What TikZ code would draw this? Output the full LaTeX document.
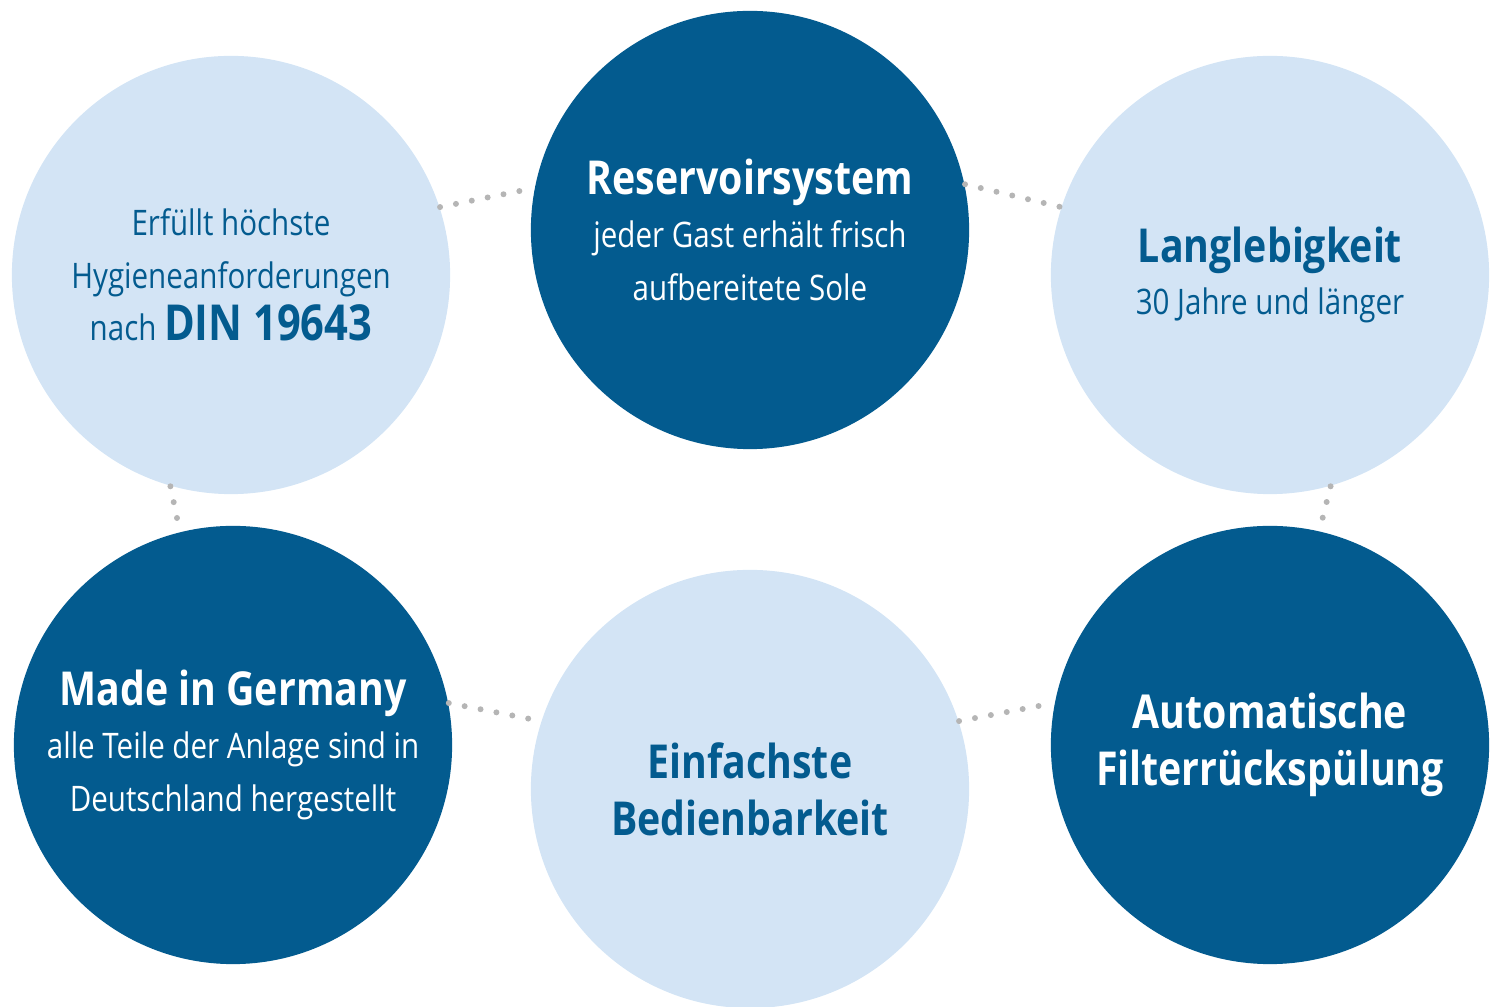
\documentclass[tikz,border=0pt]{standalone}
\usepackage{fontspec}
\setmainfont{Open Sans}[FakeStretch=0.84]
\definecolor{darkblue}{HTML}{035B8F}
\definecolor{lightblue}{HTML}{D3E4F5}
\definecolor{dotgray}{HTML}{B5B5B5}
\newcommand\body{\fontsize{10}{15}\selectfont}
\newcommand\head{\fontsize{13.3}{15}\selectfont\bfseries}
\newcommand\din{\fontsize{14.1}{15}\selectfont\bfseries}

\begin{document}
\begin{tikzpicture}[x=0.01cm,y=-0.01cm]
    \tikzstyle{every node}=[circle,minimum size=4.38cm,inner sep=0pt,align=center,font=\body]
    \tikzstyle{dark}=[fill=darkblue,text=white]
    \tikzstyle{light}=[fill=lightblue,text=darkblue]
    \tikzstyle{title}=[font=\fontsize{13.3}{16.2}\selectfont\bfseries]
    \tikzstyle{dots}=[dotgray,line width=1.7pt,line cap=round,dash pattern=on 0pt off 4.6pt]
    \useasboundingbox (0,0) rectangle (1490,1007);

    % upper row
    \node (hy) [light] at (231,275) {Erfüllt höchste\\Hygieneanforderungen\\nach {\din DIN 19643}};
    \node (rs) [dark] at (750,230) {{\head Reservoirsystem}\\jeder Gast erhält frisch\\aufbereitete Sole};
    \node (lb) [light] at (1270,275) {{\head Langlebigkeit}\\30 Jahre und länger};

    % lower row
    \node (mg) [dark] at (233,745) {{\head Made in Germany}\\alle Teile der Anlage sind in\\Deutschland hergestellt};
    \node (eb) [light,title] at (750,789) {Einfachste\\Bedienbarkeit};
    \node (fr) [dark,title] at (1270,745) {Automatische\\Filterrückspülung};

    % dotted links round the ring
    \draw[dots] (hy.18) -- (rs.169);
    \draw[dots] (rs.12) -- (lb.162);
    \draw[dots] (lb.-74) -- (fr.77);
    \draw[dots] (hy.-106) -- (mg.104);
    \draw[dots] (mg.11) -- (eb.162);
    \draw[dots] (eb.18) -- (fr.169);
\end{tikzpicture}
\end{document}
